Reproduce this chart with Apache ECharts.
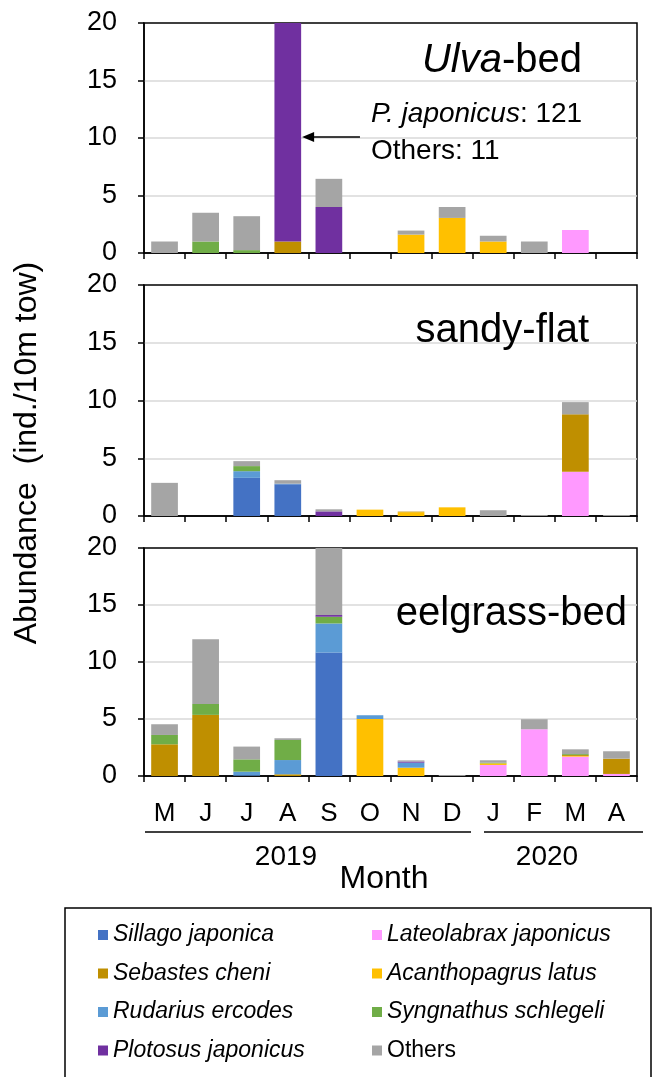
<!DOCTYPE html>
<html>
<head>
<meta charset="utf-8">
<script src="https://cdn.jsdelivr.net/npm/echarts@6/dist/echarts.min.js"></script>
<style>html,body{margin:0;padding:0;background:#fff;}#c{width:652px;height:1077px;}</style>
</head>
<body>
<div id="c"></div>
<script>
// ---- data ----
const months = ['M','J','J','A','S','O','N','D','J','F','M','A'];
const yTicks = [0, 5, 10, 15, 20];
const sites = ['Ulva-bed', 'sandy-flat', 'eelgrass-bed'];
const speciesNames = ['Lateolabrax japonicus','Sillago japonica','Acanthopagrus latus','Sebastes cheni','Rudarius ercodes','Syngnathus schlegeli','Plotosus japonicus','Others'];
const legendCol1 = ['Sillago japonica','Sebastes cheni','Rudarius ercodes','Plotosus japonicus'];
const legendCol2 = ['Lateolabrax japonicus','Acanthopagrus latus','Syngnathus schlegeli','Others'];

// Ulva-bed
const ulvaLateolabrax = [0,0,0,0,0,0,0,0,0,0,2.0,0];
const ulvaSillago     = [0,0,0,0,0,0,0,0,0,0,0,0];
const ulvaAcanth      = [0,0,0,0,0,0,1.6,3.05,1.0,0,0,0];
const ulvaSebastes    = [0,0,0,1.0,0,0,0,0,0,0,0,0];
const ulvaRudarius    = [0,0,0,0,0,0,0,0,0,0,0,0];
const ulvaSyngnathus  = [0,1.0,0.25,0,0,0,0,0,0,0,0,0];
const ulvaPlotosus    = [0,0,0,121,4.0,0,0,0,0,0,0,0];
const ulvaOthers      = [1.0,2.5,2.95,10,2.45,0,0.35,0.95,0.5,1.0,0,0];

// sandy-flat
const sandyLateolabrax = [0,0,0,0,0,0,0,0,0,0,3.83,0];
const sandySillago     = [0,0,3.3,2.75,0,0,0,0,0,0,0,0];
const sandyAcanth      = [0,0,0,0,0,0.55,0.33,0.75,0,0,0,0];
const sandySebastes    = [0,0,0,0,0,0,0.05,0,0,0,4.97,0];
const sandyRudarius    = [0,0,0.58,0.05,0,0,0,0,0,0,0,0];
const sandySyngnathus  = [0,0,0.44,0,0,0,0,0,0,0,0,0];
const sandyPlotosus    = [0,0,0,0,0.4,0,0,0,0,0,0,0];
const sandyOthers      = [2.87,0,0.43,0.3,0.18,0,0,0,0.5,0.08,1.06,0.08];

// eelgrass-bed
const eelLateolabrax = [0,0,0,0,0,0,0,0,0.97,4.1,1.7,0.18];
const eelSillago     = [0,0,0.05,0,10.83,0,0,0,0,0,0,0];
const eelAcanth      = [0,0,0,0,0,5.0,0.73,0,0.14,0,0.06,0];
const eelSebastes    = [2.78,5.36,0,0.15,0,0,0,0,0,0,0.08,1.34];
const eelRudarius    = [0,0,0.33,1.25,2.55,0.33,0.44,0,0,0,0,0];
const eelSyngnathus  = [0.82,0.96,1.08,1.76,0.59,0,0,0,0.05,0,0.08,0];
const eelPlotosus    = [0,0,0,0,0.15,0,0.1,0,0,0,0,0];
const eelOthers      = [0.94,5.68,1.12,0.15,6.2,0,0.1,0.08,0.22,0.88,0.42,0.65];

const siteData = [
  [ulvaLateolabrax, ulvaSillago, ulvaAcanth, ulvaSebastes, ulvaRudarius, ulvaSyngnathus, ulvaPlotosus, ulvaOthers],
  [sandyLateolabrax, sandySillago, sandyAcanth, sandySebastes, sandyRudarius, sandySyngnathus, sandyPlotosus, sandyOthers],
  [eelLateolabrax, eelSillago, eelAcanth, eelSebastes, eelRudarius, eelSyngnathus, eelPlotosus, eelOthers]
];

// ---- styles ----
const colors = {
  'Sillago japonica': '#4472C4',
  'Sebastes cheni': '#BF8F00',
  'Rudarius ercodes': '#5B9BD5',
  'Plotosus japonicus': '#7030A0',
  'Lateolabrax japonicus': '#FF99FF',
  'Acanthopagrus latus': '#FFC000',
  'Syngnathus schlegeli': '#70AD47',
  'Others': '#A5A5A5'
};
const FONT = "'Liberation Sans', Arial, sans-serif";
const grids = [
  {left: 144, top: 23, width: 493, height: 230},
  {left: 144, top: 285, width: 493, height: 231},
  {left: 144, top: 548, width: 493, height: 228}
];

const chart = echarts.init(document.getElementById('c'), null, {renderer: 'canvas'});

const legendText = {
  fontSize: 23, fontStyle: 'italic', fontFamily: FONT, color: '#000', lineHeight: 24,
  rich: {n: {fontSize: 23, fontStyle: 'normal', fontFamily: FONT, color: '#000', lineHeight: 24}}
};
const legendFmt = name => name === 'Others' ? '{n|' + name + '}' : name;

const option = {
  animation: false,
  backgroundColor: '#fff',
  grid: grids.map(g => Object.assign({show: true, borderColor: '#000', borderWidth: 1.5, backgroundColor: 'transparent'}, g)),
  xAxis: grids.map((g, i) => ({
    type: 'category', gridIndex: i, data: months,
    axisLine: {show: true, lineStyle: {color: '#000', width: 1.5}},
    axisTick: {show: true, interval: 0, length: 6, inside: false, lineStyle: {color: '#000', width: 1.5}},
    axisLabel: {show: i === 2, interval: 0, color: '#000', fontSize: 26, fontFamily: FONT, margin: 25},
    splitLine: {show: false}
  })),
  yAxis: grids.map((g, i) => ({
    type: 'value', gridIndex: i, min: yTicks[0], max: yTicks[yTicks.length - 1], interval: 5,
    axisLine: {show: true, lineStyle: {color: '#000', width: 1.5}},
    axisTick: {show: true, length: 6, inside: false, lineStyle: {color: '#000', width: 1.5}},
    axisLabel: {color: '#000', fontSize: 27, fontFamily: FONT, margin: 27},
    splitLine: {show: true, showMinLine: false, showMaxLine: false, lineStyle: {color: '#d9d9d9', width: 1.5}}
  })),
  legend: [
    {data: legendCol1, orient: 'vertical', left: 98, top: 923, padding: 0, itemWidth: 10, itemHeight: 10, itemGap: 14.5,
     icon: 'rect', selectedMode: false, formatter: legendFmt, textStyle: legendText},
    {data: legendCol2, orient: 'vertical', left: 372, top: 923, padding: 0, itemWidth: 10, itemHeight: 10, itemGap: 14.5,
     icon: 'rect', selectedMode: false, formatter: legendFmt, textStyle: legendText}
  ],
  series: []
};

siteData.forEach((arrs, gi) => {
  arrs.forEach((vals, si) => {
    const name = speciesNames[si];
    option.series.push({
      type: 'bar', name: name, stack: 'site' + gi,
      xAxisIndex: gi, yAxisIndex: gi,
      data: vals, barWidth: '65%',
      itemStyle: {color: colors[name]},
      clip: true
    });
  });
});

chart.setOption(option);

// ---- annotations computed from axes ----
const head = chart.convertToPixel({xAxisIndex: 0, yAxisIndex: 0}, [3, 10]);
const c5 = chart.convertToPixel({xAxisIndex: 0, yAxisIndex: 0}, [5, 10]);
const band = chart.convertToPixel({xAxisIndex: 0}, 1) - chart.convertToPixel({xAxisIndex: 0}, 0);
const hx = head[0] + band * 0.65 / 2 + 1;
const hy = head[1] - 1;
const tailX = c5[0] - 10;

chart.setOption({
  graphic: [
    // panel titles
    {type: 'text', x: 582, y: 61, style: {text: '{i|Ulva}-bed', textAlign: 'right', textVerticalAlign: 'middle',
      font: '40px ' + FONT, fill: '#000', rich: {i: {fontStyle: 'italic', fontSize: 40, fontFamily: FONT}}}},
    {type: 'text', x: 589, y: 331, style: {text: 'sandy-flat', textAlign: 'right', textVerticalAlign: 'middle', font: '40px ' + FONT, fill: '#000'}},
    {type: 'text', x: 627, y: 614, style: {text: 'eelgrass-bed', textAlign: 'right', textVerticalAlign: 'middle', font: '40px ' + FONT, fill: '#000'}},
    // annotation
    {type: 'text', x: tailX + 11, y: 96, style: {text: '{i|P. japonicus}: 121\nOthers: 11', font: '28px ' + FONT, fill: '#000', lineHeight: 37,
      rich: {i: {fontStyle: 'italic', fontSize: 28, fontFamily: FONT, lineHeight: 37}}}},
    {type: 'line', shape: {x1: hx + 10, y1: hy, x2: tailX, y2: hy}, style: {stroke: '#000', lineWidth: 1.5}},
    {type: 'polygon', shape: {points: [[hx, hy], [hx + 12, hy - 5], [hx + 12, hy + 5]]}, style: {fill: '#000'}},
    // y axis name
    {type: 'text', x: 27, y: 453, rotation: Math.PI / 2, style: {text: 'Abundance  (ind./10m tow)', textAlign: 'center', textVerticalAlign: 'middle', font: '32px ' + FONT, fill: '#000'}},
    // year lines and labels
    {type: 'line', shape: {x1: 145, y1: 832, x2: 471, y2: 832}, style: {stroke: '#000', lineWidth: 1.5}},
    {type: 'line', shape: {x1: 484, y1: 832, x2: 643, y2: 832}, style: {stroke: '#000', lineWidth: 1.5}},
    {type: 'text', x: 286, y: 857, style: {text: '2019', textAlign: 'center', textVerticalAlign: 'middle', font: '28px ' + FONT, fill: '#000'}},
    {type: 'text', x: 547, y: 857, style: {text: '2020', textAlign: 'center', textVerticalAlign: 'middle', font: '28px ' + FONT, fill: '#000'}},
    {type: 'text', x: 384, y: 879, style: {text: 'Month', textAlign: 'center', textVerticalAlign: 'middle', font: '32px ' + FONT, fill: '#000'}},
    // legend frame
    {type: 'rect', shape: {x: 65, y: 908, width: 586, height: 185}, style: {fill: 'none', stroke: '#000', lineWidth: 1.5}, z: -1}
  ]
});
</script>
</body>
</html>
